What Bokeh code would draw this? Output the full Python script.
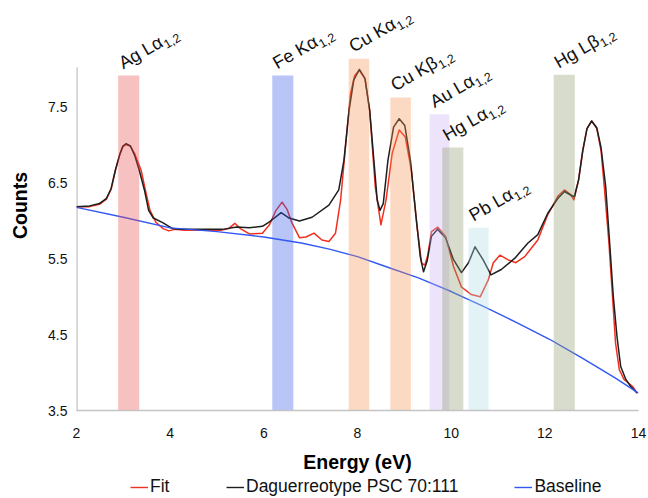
import math
from bokeh.plotting import figure
from bokeh.layouts import column
from bokeh.models import ColumnDataSource, LabelSet, Legend, LegendItem, FixedTicker, Range1d
from bokeh.core.properties import value
from bokeh.embed import file_html
from bokeh.resources import INLINE

# ---- data ----
energy_data = [2.0, 2.28, 2.49, 2.64, 2.74, 2.83, 2.92, 2.99, 3.06, 3.15, 3.24, 3.34, 3.45, 3.54,
               3.64, 3.84, 4.05, 4.21, 5.12, 5.42, 5.69, 5.97, 6.12, 6.37, 6.54, 6.76, 7.03, 7.39,
               7.60, 7.71, 7.82, 7.92, 8.04, 8.16, 8.26, 8.35, 8.42, 8.48, 8.55, 8.65, 8.77, 8.89,
               9.01, 9.13, 9.25, 9.34, 9.41, 9.49, 9.58, 9.71, 9.88, 10.05, 10.22, 10.37, 10.51,
               10.68, 10.85, 11.07, 11.36, 11.64, 11.85, 12.06, 12.28, 12.42, 12.56, 12.63, 12.72,
               12.81, 12.90, 13.00, 13.11, 13.20, 13.30, 13.39, 13.46, 13.54, 13.62, 13.73, 13.83,
               13.97]
counts_data = [6.19, 6.20, 6.23, 6.30, 6.43, 6.67, 6.87, 6.99, 7.02, 6.99, 6.87, 6.67, 6.41, 6.14,
               6.04, 5.98, 5.90, 5.89, 5.89, 5.92, 5.91, 5.93, 5.99, 6.11, 6.04, 6.00, 6.05, 6.21,
               6.41, 6.80, 7.46, 7.86, 8.00, 7.88, 7.46, 6.80, 6.28, 6.14, 6.23, 6.80, 7.24, 7.35,
               7.26, 6.80, 6.06, 5.53, 5.33, 5.48, 5.80, 5.89, 5.78, 5.49, 5.32, 5.45, 5.66,
               5.49, 5.29, 5.36, 5.51, 5.71, 5.82, 6.10, 6.30, 6.39, 6.34, 6.32, 6.54,
               6.93, 7.22, 7.32, 7.23, 6.97, 6.45, 5.66, 5.02, 4.48, 4.08, 3.91, 3.82,
               3.73]

energy_fit = [2.0, 2.28, 2.49, 2.64, 2.74, 2.83, 2.92, 2.99, 3.06, 3.15, 3.24, 3.38, 3.47, 3.57,
              3.70, 3.85, 3.97, 4.1, 4.3, 5.1, 5.25, 5.38, 5.5, 5.69, 5.97, 6.12, 6.25, 6.39, 6.5,
              6.59, 6.76, 6.90, 7.07, 7.24, 7.39, 7.53, 7.64, 7.75, 7.85, 7.94, 8.04, 8.16, 8.26,
              8.38, 8.50, 8.61, 8.74, 8.89, 9.02, 9.15, 9.27, 9.37, 9.44, 9.50, 9.58, 9.71, 9.88,
              10.05, 10.22, 10.43, 10.62, 10.79, 10.90, 11.04, 11.21, 11.38, 11.57, 11.85, 12.06,
              12.28, 12.42, 12.55, 12.62, 12.72, 12.81, 12.90, 13.00, 13.11, 13.20, 13.27, 13.37,
              13.44, 13.51, 13.59, 13.69, 13.87, 13.97]
counts_fit = [6.19, 6.19, 6.22, 6.29, 6.42, 6.67, 6.87, 6.98, 7.01, 6.99, 6.89, 6.67, 6.41, 6.14,
              5.98, 5.90, 5.87, 5.89, 5.88, 5.88, 5.90, 5.97, 5.90, 5.83, 5.84, 5.95, 6.13, 6.25, 6.15,
              5.99, 5.78, 5.79, 5.84, 5.75, 5.73, 5.84, 6.28, 7.02, 7.68, 7.92, 7.99, 7.88, 7.46,
              6.45, 5.95, 6.28, 6.89, 7.20, 7.11, 6.67, 5.93, 5.44, 5.42, 5.55, 5.86, 5.92, 5.80,
              5.40, 5.13, 5.03, 5.00, 5.22, 5.45, 5.55, 5.49, 5.45, 5.53, 5.75, 6.08,
              6.33, 6.41, 6.35, 6.28, 6.54, 6.93, 7.22, 7.32, 7.22, 6.93, 6.45, 5.70,
              5.05, 4.39, 4.04, 3.91, 3.82, 3.73]

energy_base = [2.0, 3.0, 4.0, 5.0, 6.0, 6.8, 7.4, 8.0, 8.6, 9.3, 10.0, 10.7, 11.4, 12.1, 12.8, 13.5, 14.0]
counts_base = [6.18, 6.05, 5.91, 5.86, 5.79, 5.71, 5.63, 5.53, 5.40, 5.25, 5.07, 4.87, 4.66, 4.44, 4.19, 3.93, 3.73]

band_names = ["Ag Lα", "Fe Kα", "Cu Kα", "Cu Kβ", "Au Lα", "Hg Lα", "Pb Lα", "Hg Lβ"]
band_subs = ["1,2", "1,2", "1,2", "1,2", "1,2", "1,2", "1,2", "1,2"]
band_left = [2.89, 6.18, 7.81, 8.70, 9.54, 9.81, 10.37, 12.19]
band_right = [3.34, 6.63, 8.25, 9.14, 9.96, 10.26, 10.80, 12.64]
band_top = [7.92, 7.92, 8.14, 7.63, 7.41, 6.97, 5.91, 7.93]
band_colors = ["#EB4E4E", "#3759E8", "#F49251", "#F49251", "#CCB2F4", "#8E9A6E", "#ACDAE2", "#8E9A6E"]

legend_labels = ["Fit", "Daguerreotype PSC 70:111", "Baseline"]
x_ticks = [2, 4, 6, 8, 10, 12, 14]
y_ticks = [3.5, 4.5, 5.5, 6.5, 7.5]
x_min, x_max = 2, 14
y_min, y_max = 3.5, 8.91
axis_top = 8.03

FONT = "Liberation Sans"
C_FIT, C_DATA, C_BASE = "#F2301F", "#1E1E1E", "#3158F5"

p = figure(width=648, height=475, x_range=Range1d(x_min, x_max), y_range=Range1d(y_min, y_max),
           output_backend="svg", toolbar_location=None,
           min_border_left=76, min_border_right=10, min_border_top=0, min_border_bottom=64)
p.xgrid.visible = False
p.ygrid.visible = False
p.outline_line_color = None
p.background_fill_color = "white"

for ax in (p.xaxis[0], p.yaxis[0]):
    ax.major_tick_line_color = None
    ax.minor_tick_line_color = None
    ax.axis_line_color = "#c4c4c4"
    ax.axis_line_width = 1.5
    ax.major_label_text_font = FONT
    ax.major_label_text_font_size = "14px"
    ax.major_label_text_color = "#111111"
    ax.axis_label_text_font = FONT
    ax.axis_label_text_font_size = "19.5px"
    ax.axis_label_text_font_style = "bold"
    ax.axis_label_text_color = "#000000"

p.yaxis.axis_line_color = None
p.xaxis.ticker = FixedTicker(ticks=x_ticks)
p.yaxis.ticker = FixedTicker(ticks=y_ticks)
p.xaxis.axis_label = "Energy (eV)"
p.yaxis.axis_label = "Counts"
p.xaxis.major_label_standoff = 11
p.xaxis.axis_label_standoff = 10
p.yaxis.major_label_standoff = 3
p.yaxis.axis_label_standoff = 14

# y axis line (stops at the top of the value scale, as in the reference)
p.segment(x0=[x_min], y0=[y_min], x1=[x_min], y1=[axis_top], line_color="#c4c4c4", line_width=2.5)

r_fit = p.line(energy_fit, counts_fit, line_color=C_FIT, line_width=1.5, line_join="round")
r_data = p.line(energy_data, counts_data, line_color=C_DATA, line_width=1.5, line_join="round")
r_base = p.line(energy_base, counts_base, line_color=C_BASE, line_width=1.4, line_join="round")

band_src = ColumnDataSource(dict(left=band_left, right=band_right, top=band_top,
                                 bottom=[y_min] * len(band_left), color=band_colors))
p.quad(left="left", right="right", top="top", bottom="bottom", source=band_src,
       fill_color="color", fill_alpha=0.35, line_color=None)

# label placement (layout only)
widths = {"A": 667, "g": 556, " ": 278, "L": 556, "α": 578, "F": 611, "e": 556, "K": 667,
          "C": 722, "u": 556, "β": 575, "H": 722, "P": 667, "b": 556}
main_size = 18
theta = math.radians(30)
x_off0, y_off0 = 5, 6
sub_drop = 4
sub_x, sub_y = [], []
for name in band_names:
    w = sum(widths.get(c, 556) for c in name) / 1000 * main_size + 0.5
    sub_x.append(x_off0 + w * math.cos(theta) + sub_drop * math.sin(theta))
    sub_y.append(y_off0 + w * math.sin(theta) - sub_drop * math.cos(theta))

lab_src = ColumnDataSource(dict(x=band_left, y=band_top, name=band_names, sub=band_subs,
                                sx=sub_x, sy=sub_y))
p.add_layout(LabelSet(x="x", y="y", text="name", source=lab_src, angle=30, angle_units="deg",
                      x_offset=x_off0, y_offset=y_off0, text_font=value(FONT),
                      text_font_size=value("18px"), text_color="#111111",
                      text_align="left", text_baseline="alphabetic"))
p.add_layout(LabelSet(x="x", y="y", text="sub", source=lab_src, angle=30, angle_units="deg",
                      x_offset="sx", y_offset="sy", text_font=value(FONT),
                      text_font_size=value("12.5px"), text_color="#111111",
                      text_align="left", text_baseline="alphabetic"))

# legend strip underneath the chart (its sample lines sit outside its empty ranges)
lg = figure(width=648, height=22, x_range=Range1d(100, 101), y_range=Range1d(100, 101),
            output_backend="svg", toolbar_location=None, min_border=0)
lg.axis.visible = False
lg.xgrid.visible = False
lg.ygrid.visible = False
lg.outline_line_color = None
items = []
for lab, col, xs, ys in zip(legend_labels, [C_FIT, C_DATA, C_BASE],
                            [energy_fit, energy_data, energy_base],
                            [counts_fit, counts_data, counts_base]):
    r = lg.line(x=xs, y=ys, line_color=col, line_width=1.4)
    items.append(LegendItem(label=lab, renderers=[r]))
legend = Legend(items=items, orientation="horizontal", location=(54, 0), border_line_color=None,
                background_fill_alpha=0, label_text_font=FONT, label_text_font_size="17.5px",
                label_text_color="#111111", spacing=56, glyph_width=18, glyph_height=16,
                label_standoff=2, padding=0, margin=0)
lg.add_layout(legend, "center")

layout = column(p, lg, spacing=0)
open("out.html", "w").write(file_html(layout, INLINE))
